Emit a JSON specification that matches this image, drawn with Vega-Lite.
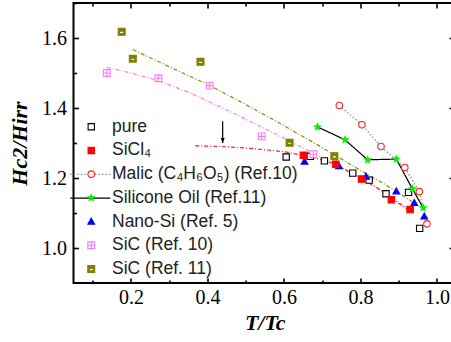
{
  "$schema": "https://vega.github.io/schema/vega-lite/v6.json",
  "width": 382.5,
  "height": 280,
  "autosize": {"type": "none"},
  "padding": {"left": 73.5, "top": 3, "right": 0, "bottom": 59},
  "background": "white",
  "datasets": {
    "pts": [
      {"series": "pure", "x": 0.606, "y": 1.260},
      {"series": "pure", "x": 0.669, "y": 1.262},
      {"series": "pure", "x": 0.706, "y": 1.249},
      {"series": "pure", "x": 0.780, "y": 1.214},
      {"series": "pure", "x": 0.823, "y": 1.194},
      {"series": "pure", "x": 0.867, "y": 1.155},
      {"series": "pure", "x": 0.926, "y": 1.159},
      {"series": "pure", "x": 0.955, "y": 1.056},
      {"series": "Nano-Si (Ref. 5)", "x": 0.654, "y": 1.247},
      {"series": "Nano-Si (Ref. 5)", "x": 0.744, "y": 1.234},
      {"series": "Nano-Si (Ref. 5)", "x": 0.815, "y": 1.204},
      {"series": "Nano-Si (Ref. 5)", "x": 0.894, "y": 1.162},
      {"series": "Nano-Si (Ref. 5)", "x": 0.941, "y": 1.129},
      {"series": "Nano-Si (Ref. 5)", "x": 0.967, "y": 1.090},
      {"series": "SiCl₄", "x": 0.651, "y": 1.265},
      {"series": "SiCl₄", "x": 0.736, "y": 1.239},
      {"series": "SiCl₄", "x": 0.803, "y": 1.197},
      {"series": "SiCl₄", "x": 0.881, "y": 1.138},
      {"series": "SiCl₄", "x": 0.930, "y": 1.110},
      {"series": "Malic (C₄H₆O₅) (Ref.10)", "x": 0.745, "y": 1.407},
      {"series": "Malic (C₄H₆O₅) (Ref.10)", "x": 0.804, "y": 1.352},
      {"series": "Malic (C₄H₆O₅) (Ref.10)", "x": 0.854, "y": 1.290},
      {"series": "Malic (C₄H₆O₅) (Ref.10)", "x": 0.916, "y": 1.230},
      {"series": "Malic (C₄H₆O₅) (Ref.10)", "x": 0.954, "y": 1.161},
      {"series": "Malic (C₄H₆O₅) (Ref.10)", "x": 0.974, "y": 1.069},
      {"series": "Silicone Oil (Ref.11)", "x": 0.688, "y": 1.346},
      {"series": "Silicone Oil (Ref.11)", "x": 0.760, "y": 1.309},
      {"series": "Silicone Oil (Ref.11)", "x": 0.819, "y": 1.252},
      {"series": "Silicone Oil (Ref.11)", "x": 0.894, "y": 1.254},
      {"series": "Silicone Oil (Ref.11)", "x": 0.936, "y": 1.169},
      {"series": "Silicone Oil (Ref.11)", "x": 0.964, "y": 1.115},
      {"series": "SiC (Ref. 10)", "x": 0.137, "y": 1.500},
      {"series": "SiC (Ref. 10)", "x": 0.272, "y": 1.485},
      {"series": "SiC (Ref. 10)", "x": 0.406, "y": 1.464},
      {"series": "SiC (Ref. 10)", "x": 0.542, "y": 1.319},
      {"series": "SiC (Ref. 10)", "x": 0.677, "y": 1.268},
      {"series": "SiC (Ref. 11)", "x": 0.176, "y": 1.618},
      {"series": "SiC (Ref. 11)", "x": 0.205, "y": 1.541},
      {"series": "SiC (Ref. 11)", "x": 0.382, "y": 1.532},
      {"series": "SiC (Ref. 11)", "x": 0.615, "y": 1.301},
      {"series": "SiC (Ref. 11)", "x": 0.732, "y": 1.262}
    ],
    "fits": [
      {"fit": "SiC (Ref. 10)", "x": 0.137, "y": 1.516},
      {"fit": "SiC (Ref. 10)", "x": 0.200, "y": 1.500},
      {"fit": "SiC (Ref. 10)", "x": 0.272, "y": 1.478},
      {"fit": "SiC (Ref. 10)", "x": 0.355, "y": 1.443},
      {"fit": "SiC (Ref. 10)", "x": 0.440, "y": 1.400},
      {"fit": "SiC (Ref. 10)", "x": 0.530, "y": 1.352},
      {"fit": "SiC (Ref. 10)", "x": 0.600, "y": 1.314},
      {"fit": "SiC (Ref. 10)", "x": 0.677, "y": 1.271},
      {"fit": "SiC (Ref. 10)", "x": 0.750, "y": 1.230},
      {"fit": "SiC (Ref. 10)", "x": 0.808, "y": 1.195},
      {"fit": "SiC (Ref. 10)", "x": 0.870, "y": 1.153},
      {"fit": "SiC (Ref. 10)", "x": 0.925, "y": 1.111},
      {"fit": "SiC (Ref. 11)", "x": 0.205, "y": 1.567},
      {"fit": "SiC (Ref. 11)", "x": 0.300, "y": 1.518},
      {"fit": "SiC (Ref. 11)", "x": 0.407, "y": 1.464},
      {"fit": "SiC (Ref. 11)", "x": 0.500, "y": 1.410},
      {"fit": "SiC (Ref. 11)", "x": 0.600, "y": 1.350},
      {"fit": "SiC (Ref. 11)", "x": 0.700, "y": 1.287},
      {"fit": "SiC (Ref. 11)", "x": 0.800, "y": 1.222},
      {"fit": "SiC (Ref. 11)", "x": 0.870, "y": 1.178},
      {"fit": "SiC (Ref. 11)", "x": 0.935, "y": 1.133},
      {"fit": "SiCl₄", "x": 0.368, "y": 1.292},
      {"fit": "SiCl₄", "x": 0.440, "y": 1.290},
      {"fit": "SiCl₄", "x": 0.520, "y": 1.284},
      {"fit": "SiCl₄", "x": 0.608, "y": 1.274},
      {"fit": "SiCl₄", "x": 0.651, "y": 1.264},
      {"fit": "SiCl₄", "x": 0.700, "y": 1.252},
      {"fit": "SiCl₄", "x": 0.738, "y": 1.238},
      {"fit": "SiCl₄", "x": 0.804, "y": 1.197},
      {"fit": "SiCl₄", "x": 0.850, "y": 1.168},
      {"fit": "SiCl₄", "x": 0.878, "y": 1.145},
      {"fit": "SiCl₄", "x": 0.930, "y": 1.105}
    ],
    "marker": [
      {"x": 0.44, "y": 1.362, "y2": 1.300}
    ]
  },
  "encoding": {
    "x": {"field": "x", "type": "quantitative", "scale": {"domain": [0.05, 1.05], "nice": false, "zero": false}, "axis": null},
    "y": {"field": "y", "type": "quantitative", "scale": {"domain": [0.9, 1.7], "nice": false, "zero": false}, "axis": null}
  },
  "layer": [
    {
      "data": {"name": "fits"},
      "transform": [{"filter": "datum.fit === 'SiC (Ref. 10)'"}],
      "mark": {"type": "line", "color": "#f47ff4", "strokeWidth": 1.2, "strokeDash": [4, 2, 1, 2]},
      "encoding": {}
    },
    {
      "data": {"name": "fits"},
      "transform": [{"filter": "datum.fit === 'SiC (Ref. 11)'"}],
      "mark": {"type": "line", "color": "#8a8a10", "strokeWidth": 1.2, "strokeDash": [4, 2, 1, 2]},
      "encoding": {}
    },
    {
      "data": {"name": "fits"},
      "transform": [{"filter": "datum.fit === 'SiCl₄'"}],
      "mark": {"type": "line", "color": "#ff2020", "strokeWidth": 1.2, "strokeDash": [4, 2, 1, 2]},
      "encoding": {}
    },
    {
      "data": {"name": "pts"},
      "transform": [{"filter": "datum.series === 'Malic (C₄H₆O₅) (Ref.10)' || datum.series === 'Silicone Oil (Ref.11)'"}],
      "mark": {"type": "line", "strokeWidth": 1.2},
      "encoding": {
        "color": {
          "field": "series", "type": "nominal",
          "scale": {"domain": ["Malic (C₄H₆O₅) (Ref.10)", "Silicone Oil (Ref.11)"], "range": ["#888888", "black"]},
          "legend": {"title": null, "orient": "none", "legendX": 8, "legendY": 162.6, "symbolType": "M-5,0H5", "symbolSize": 64, "symbolStrokeWidth": 1.2, "labelExpr": "''", "zindex": 0}
        },
        "strokeDash": {
          "field": "series", "type": "nominal",
          "scale": {"domain": ["Malic (C₄H₆O₅) (Ref.10)", "Silicone Oil (Ref.11)"], "range": [[1.5, 2], [1, 0]]},
          "legend": {"title": null, "orient": "none", "legendX": 8, "legendY": 162.6, "symbolType": "M-5,0H5", "symbolSize": 64, "symbolStrokeWidth": 1.2, "labelExpr": "''", "zindex": 0}
        }
      }
    },
    {
      "data": {"name": "marker"},
      "mark": {"type": "rule", "color": "black", "strokeWidth": 1.2},
      "encoding": {"y2": {"field": "y2"}}
    },
    {
      "data": {"name": "marker"},
      "mark": {"type": "point", "shape": "M0,0L-1,-2.5L1,-2.5Z", "size": 16, "filled": true, "color": "black", "opacity": 1},
      "encoding": {"y": {"field": "y2", "type": "quantitative", "scale": {"domain": [0.9, 1.7], "nice": false, "zero": false}, "axis": null}}
    },
    {
      "data": {"name": "pts"},
      "mark": {"type": "point", "strokeWidth": 1.1, "opacity": 1},
      "encoding": {
        "x": {
          "field": "x", "type": "quantitative",
          "scale": {"domain": [0.05, 1.05], "nice": false, "zero": false},
          "axis": {
            "orient": "bottom",
            "values": [0.2, 0.4, 0.6, 0.8, 1.0],
            "format": ".1f",
            "offset": -5,
            "tickSize": 5,
            "labelPadding": 4.5,
            "title": "T/Tc",
            "titlePadding": 5
          }
        },
        "y": {
          "field": "y", "type": "quantitative",
          "scale": {"domain": [0.9, 1.7], "nice": false, "zero": false},
          "axis": {
            "orient": "left",
            "values": [1.0, 1.2, 1.4, 1.6],
            "format": ".1f",
            "offset": -5,
            "tickSize": 5,
            "labelPadding": 7,
            "title": "Hc2/Hirr",
            "titlePadding": 10
          }
        },
        "shape": {
          "field": "series", "type": "nominal",
          "scale": {
            "domain": ["pure", "SiCl₄", "Malic (C₄H₆O₅) (Ref.10)", "Silicone Oil (Ref.11)", "Nano-Si (Ref. 5)", "SiC (Ref. 10)", "SiC (Ref. 11)"],
            "range": [
              "square",
              "square",
              "circle",
              "M0,-1L0.247,-0.34L0.951,-0.309L0.399,0.13L0.588,0.809L0,0.42L-0.588,0.809L-0.399,0.13L-0.951,-0.309L-0.247,-0.34Z",
              "M0,-1L1,0.75L-1,0.75Z",
              "M-1,-1H1V1H-1Z M0,-1V1 M-1,0H1",
              "M-1,-1H1V1H-1Z M-0.62,-0.15V0.5H0.62V-0.15Z"
            ]
          },
          "legend": {"title": null, "orient": "none", "legendX": 9, "legendY": 115, "zindex": 2}
        },
        "fill": {
          "field": "series", "type": "nominal",
          "scale": {
            "domain": ["pure", "SiCl₄", "Malic (C₄H₆O₅) (Ref.10)", "Silicone Oil (Ref.11)", "Nano-Si (Ref. 5)", "SiC (Ref. 10)", "SiC (Ref. 11)"],
            "range": ["white", "#ff0000", "white", "#00f000", "#0000ff", "white", "#808000"]
          },
          "legend": {"title": null, "orient": "none", "legendX": 9, "legendY": 115, "zindex": 2}
        },
        "stroke": {
          "field": "series", "type": "nominal",
          "scale": {
            "domain": ["pure", "SiCl₄", "Malic (C₄H₆O₅) (Ref.10)", "Silicone Oil (Ref.11)", "Nano-Si (Ref. 5)", "SiC (Ref. 10)", "SiC (Ref. 11)"],
            "range": ["black", "#ff0000", "#ff2020", "#00f000", "#0000ff", "#f47ff4", "#808000"]
          },
          "legend": {"title": null, "orient": "none", "legendX": 9, "legendY": 115, "zindex": 2}
        },
        "size": {
          "field": "series", "type": "nominal",
          "scale": {
            "domain": ["pure", "SiCl₄", "Malic (C₄H₆O₅) (Ref.10)", "Silicone Oil (Ref.11)", "Nano-Si (Ref. 5)", "SiC (Ref. 10)", "SiC (Ref. 11)"],
            "range": [40, 48, 50, 110, 64, 48, 48]
          },
          "legend": {"title": null, "orient": "none", "legendX": 9, "legendY": 115, "zindex": 2}
        }
      }
    },
    {
      "data": {"name": "pts"},
      "mark": {"type": "point", "opacity": 0},
      "encoding": {
        "x": {
          "field": "x", "type": "quantitative",
          "scale": {"domain": [0.05, 1.05], "nice": false, "zero": false},
          "axis": {"orient": "top", "values": [0.2, 0.4, 0.6, 0.8, 1.0], "labels": false, "offset": -5, "tickSize": 5, "title": null}
        },
        "y": {
          "field": "y", "type": "quantitative",
          "scale": {"domain": [0.9, 1.7], "nice": false, "zero": false},
          "axis": {"orient": "right", "values": [1.0, 1.2, 1.4, 1.6], "labels": false, "offset": -7, "tickSize": 7, "title": null}
        }
      }
    },
    {
      "data": {"name": "pts"},
      "mark": {"type": "point", "opacity": 0},
      "encoding": {
        "x": {
          "field": "x", "type": "quantitative",
          "scale": {"domain": [0.05, 1.05], "nice": false, "zero": false},
          "axis": {"orient": "bottom", "values": [0.1, 0.3, 0.5, 0.7, 0.9], "labels": false, "offset": -3, "tickSize": 3, "title": null}
        },
        "y": {
          "field": "y", "type": "quantitative",
          "scale": {"domain": [0.9, 1.7], "nice": false, "zero": false},
          "axis": {"orient": "left", "values": [1.1, 1.3, 1.5, 1.7], "labels": false, "offset": -3, "tickSize": 3, "title": null}
        }
      }
    },
    {
      "data": {"name": "pts"},
      "mark": {"type": "point", "opacity": 0},
      "encoding": {
        "x": {
          "field": "x", "type": "quantitative",
          "scale": {"domain": [0.05, 1.05], "nice": false, "zero": false},
          "axis": {"orient": "top", "values": [0.1, 0.3, 0.5, 0.7, 0.9], "labels": false, "offset": -3, "tickSize": 3, "title": null}
        },
        "y": {
          "field": "y", "type": "quantitative",
          "scale": {"domain": [0.9, 1.7], "nice": false, "zero": false},
          "axis": {"orient": "right", "values": [1.1, 1.3, 1.5, 1.7], "labels": false, "offset": -5, "tickSize": 5, "title": null}
        }
      }
    }
  ],
  "resolve": {"axis": {"x": "independent", "y": "independent"}},
  "config": {
    "view": {"stroke": "black", "strokeWidth": 2},
    "axis": {
      "domain": false,
      "grid": false,
      "tickColor": "black",
      "tickWidth": 1.6,
      "labelFont": "Liberation Serif",
      "labelFontSize": 20,
      "labelColor": "black",
      "titleFont": "Liberation Serif",
      "titleFontSize": 22,
      "titleFontWeight": "bold",
      "titleFontStyle": "italic",
      "titleColor": "black"
    },
    "legend": {
      "labelFont": "Liberation Sans",
      "labelFontSize": 17.5,
      "labelColor": "#222222",
      "labelLimit": 400,
      "labelOffset": 12,
      "rowPadding": 4.7,
      "padding": 0,
      "symbolStrokeWidth": 1.1
    }
  }
}
